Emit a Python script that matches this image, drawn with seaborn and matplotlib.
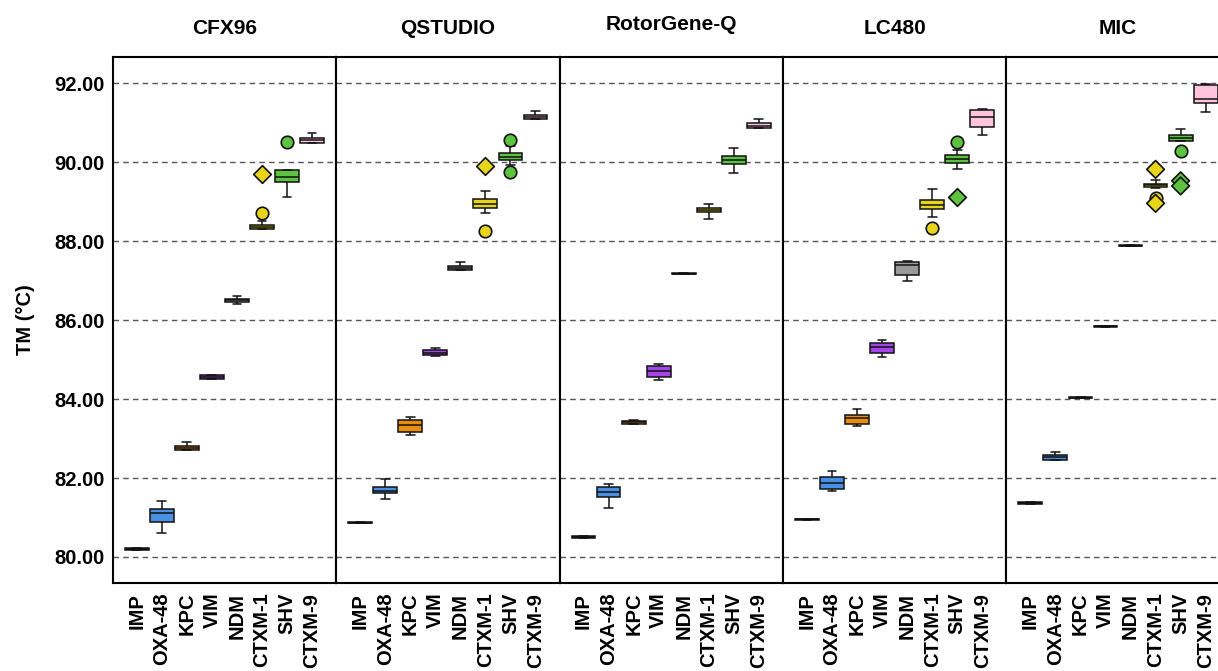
import numpy as np
import pandas as pd
import matplotlib
matplotlib.use('Agg')
import matplotlib.pyplot as plt
import seaborn as sns

genes = ['IMP', 'OXA-48', 'KPC', 'VIM', 'NDM', 'CTXM-1', 'SHV', 'CTXM-9']
instruments = ['CFX96', 'QSTUDIO', 'RotorGene-Q', 'LC480', 'MIC']
gene_colors = ['#111111', '#4a90e2', '#e88e0c', '#a544e8', '#9a9a9a',
               '#e6d51a', '#5cc23f', '#ffc4dd']

# Tm replicates per gene (same order as genes)
cfx96 = [
    [80.18, 80.18, 80.20, 80.22, 80.22],
    [80.60, 80.75, 80.89, 81.00, 81.11, 81.15, 81.21, 81.30, 81.42],
    [82.70, 82.70, 82.70, 82.73, 82.75, 82.77, 82.81, 82.86, 82.92],
    [84.50, 84.50, 84.50, 84.53, 84.55, 84.57, 84.60, 84.60, 84.60],
    [86.40, 86.43, 86.46, 86.48, 86.50, 86.52, 86.54, 86.58, 86.61],
    [88.30, 88.30, 88.30, 88.33, 88.36, 88.39, 88.42, 88.52, 88.72],
    [89.11, 89.30, 89.50, 89.56, 89.62, 89.70, 89.81, 89.81, 90.51],
    [90.50, 90.50, 90.50, 90.53, 90.56, 90.59, 90.62, 90.68, 90.73],
]
qstudio = [
    [80.85, 80.85, 80.87, 80.89, 80.89],
    [81.46, 81.55, 81.61, 81.65, 81.68, 81.72, 81.76, 81.86, 81.98],
    [83.09, 83.12, 83.16, 83.28, 83.35, 83.40, 83.46, 83.50, 83.54],
    [85.08, 85.10, 85.12, 85.15, 85.18, 85.21, 85.25, 85.27, 85.29],
    [87.26, 87.26, 87.26, 87.29, 87.32, 87.35, 87.38, 87.42, 87.47],
    [88.27, 88.72, 88.85, 88.90, 88.95, 89.00, 89.07, 89.15, 89.27],
    [89.76, 89.92, 90.07, 90.10, 90.14, 90.18, 90.23, 90.40, 90.56],
    [91.09, 91.09, 91.09, 91.12, 91.15, 91.18, 91.21, 91.26, 91.31],
]
rotorgene = [
    [80.49, 80.49, 80.51, 80.53, 80.53],
    [81.25, 81.40, 81.53, 81.60, 81.65, 81.70, 81.78, 81.82, 81.85],
    [83.36, 83.37, 83.38, 83.40, 83.41, 83.42, 83.44, 83.45, 83.46],
    [84.48, 84.52, 84.56, 84.63, 84.70, 84.78, 84.84, 84.87, 84.89],
    [87.16, 87.16, 87.17, 87.18, 87.18, 87.18, 87.19, 87.20, 87.20],
    [88.57, 88.65, 88.73, 88.76, 88.78, 88.80, 88.84, 88.90, 88.95],
    [89.73, 89.85, 89.95, 90.00, 90.05, 90.10, 90.15, 90.25, 90.36],
    [90.87, 90.87, 90.87, 90.90, 90.93, 90.96, 91.00, 91.05, 91.10],
]
lc480 = [
    [80.93, 80.93, 80.95, 80.97, 80.97],
    [81.67, 81.70, 81.72, 81.80, 81.87, 81.95, 82.03, 82.10, 82.17],
    [83.33, 83.35, 83.38, 83.45, 83.51, 83.55, 83.60, 83.68, 83.75],
    [85.07, 85.12, 85.18, 85.25, 85.31, 85.37, 85.42, 85.45, 85.49],
    [86.98, 87.08, 87.15, 87.30, 87.40, 87.45, 87.48, 87.49, 87.50],
    [88.33, 88.61, 88.82, 88.88, 88.92, 88.98, 89.04, 89.18, 89.32],
    [89.84, 89.90, 89.98, 90.04, 90.09, 90.14, 90.18, 90.32, 90.52],
    [90.70, 90.80, 90.90, 91.05, 91.14, 91.25, 91.32, 91.34, 91.36],
]
mic = [
    [81.34, 81.34, 81.36, 81.38, 81.38],
    [82.45, 82.45, 82.45, 82.49, 82.52, 82.55, 82.58, 82.62, 82.65],
    [84.02, 84.02, 84.03, 84.03, 84.04, 84.04, 84.05, 84.05, 84.06],
    [85.82, 85.82, 85.83, 85.83, 85.84, 85.84, 85.85, 85.85, 85.86],
    [87.87, 87.87, 87.88, 87.88, 87.89, 87.89, 87.90, 87.90, 87.90],
    [89.09, 89.34, 89.37, 89.40, 89.42, 89.44, 89.46, 89.51, 89.56],
    [90.29, 90.55, 90.55, 90.58, 90.62, 90.65, 90.68, 90.76, 90.84],
    [91.27, 91.40, 91.51, 91.56, 91.61, 91.80, 91.96, 91.97, 91.98],
]

# extreme values (diamonds)
extreme_instr = ['CFX96', 'QSTUDIO', 'LC480', 'MIC', 'MIC', 'MIC', 'MIC']
extreme_gene = ['CTXM-1', 'CTXM-1', 'SHV', 'CTXM-1', 'CTXM-1', 'SHV', 'SHV']
extreme_tm = [89.71, 89.90, 89.11, 89.82, 88.96, 89.53, 89.40]

sns.set_theme(style='white')
plt.rcParams['font.family'] = ['Liberation Sans', 'DejaVu Sans']
plt.rcParams['font.weight'] = 'bold'
for k in ['text.color', 'axes.labelcolor', 'xtick.color', 'ytick.color']:
    plt.rcParams[k] = 'black'

rows = []
for inst, groups in zip(instruments, [cfx96, qstudio, rotorgene, lc480, mic]):
    for g, vals in zip(genes, groups):
        for v in vals:
            rows.append((inst, g, v))
df = pd.DataFrame(rows, columns=['instrument', 'gene', 'tm'])
ext = pd.DataFrame({'instrument': extreme_instr, 'gene': extreme_gene, 'tm': extreme_tm})
palette = dict(zip(genes, gene_colors))

W, H = 1218, 671
fig = plt.figure(figsize=(W / 100, H / 100), dpi=100)
panel_w = 223.4

for i, inst in enumerate(instruments):
    ax = fig.add_axes([(112.7 + i * panel_w) / W, (H - 583) / H,
                       panel_w / W, (583 - 56.5) / H])
    ax.set_axisbelow(True)
    ax.yaxis.grid(True, linestyle=(0, (4, 3)), color='#555555', lw=1)

    sub = df[df.instrument == inst]
    for g, c in zip(genes, gene_colors):
        sns.boxplot(data=sub[sub.gene == g], x='gene', y='tm', order=genes,
                    color=c, saturation=1, width=0.95, linecolor='#111111',
                    linewidth=1.1, fliersize=9,
                    flierprops=dict(marker='o', markerfacecolor=c, markeredgewidth=1.2),
                    capwidths=0.35, ax=ax)

    esub = ext[ext.instrument == inst]
    if len(esub):
        sns.stripplot(data=esub, x='gene', y='tm', order=genes, hue='gene',
                      palette=palette, jitter=False, marker='D', size=9,
                      edgecolor='#111111', linewidth=1.2, legend=False, ax=ax)

    ax.set_xlim(-0.96, 7.96)
    ax.set_ylim(79.34, 92.68)
    ax.set_yticks(np.arange(80, 93, 2))
    ax.set_xticks(range(len(genes)))
    ax.set_xticklabels(genes, rotation=90, fontsize=14.5, fontweight='bold')
    ax.tick_params(length=0)
    ax.tick_params(axis='x', pad=7)
    ax.set_xlabel('')
    if i == 0:
        ax.set_yticklabels(['%.2f' % v for v in np.arange(80, 93, 2)],
                           fontsize=14.5, fontweight='bold')
        ax.tick_params(axis='y', pad=6)
        ax.set_ylabel('TM (°C)', fontsize=14.5, fontweight='bold')
        ax.yaxis.set_label_coords(-0.35, 0.5)
    else:
        ax.set_yticklabels([])
        ax.set_ylabel('')
    for s in ax.spines.values():
        s.set_color('black')
        s.set_linewidth(1.5)
    ax.set_title(inst, fontsize=15, fontweight='bold',
                 pad=19 if inst == 'RotorGene-Q' else 16)

fig.savefig('out.png', dpi=100)
